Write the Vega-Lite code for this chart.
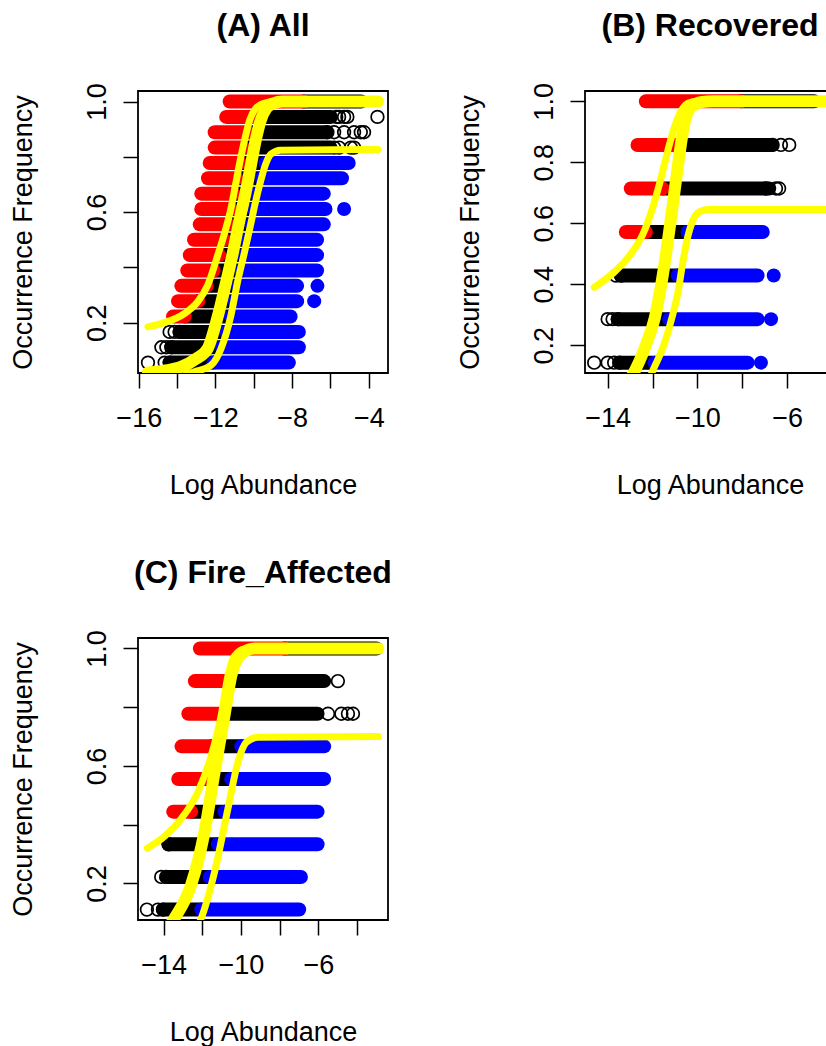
{
 "$schema": "https://vega.github.io/schema/vega-lite/v6.json",
 "background": "white",
 "padding": {"left": 8, "top": 8, "right": 0, "bottom": 0},
 "bounds": "flush",
 "columns": 2,
 "spacing": {"row": 265, "column": 197},
 "datasets": {
  "bands": [
   {"p":"A","g":"black","y":1.0,"x1":-7.4,"x2":-4.4},
   {"p":"A","g":"black","y":0.9444,"x1":-10.05,"x2":-5.98},
   {"p":"A","g":"black","y":0.8889,"x1":-10.35,"x2":-6.2},
   {"p":"A","g":"black","y":0.8333,"x1":-10.55,"x2":-6.0},
   {"p":"A","g":"black","y":0.7778,"x1":-10.73,"x2":-9.4},
   {"p":"A","g":"black","y":0.7222,"x1":-10.9,"x2":-9.6},
   {"p":"A","g":"black","y":0.6667,"x1":-11.05,"x2":-9.85},
   {"p":"A","g":"black","y":0.6111,"x1":-11.2,"x2":-10.0},
   {"p":"A","g":"black","y":0.5556,"x1":-11.35,"x2":-10.15},
   {"p":"A","g":"black","y":0.5,"x1":-11.55,"x2":-10.35},
   {"p":"A","g":"black","y":0.4444,"x1":-11.8,"x2":-10.5},
   {"p":"A","g":"black","y":0.3889,"x1":-12.1,"x2":-10.62},
   {"p":"A","g":"black","y":0.3333,"x1":-12.45,"x2":-10.8},
   {"p":"A","g":"black","y":0.2778,"x1":-12.9,"x2":-11.0},
   {"p":"A","g":"black","y":0.2222,"x1":-13.6,"x2":-11.2},
   {"p":"A","g":"black","y":0.1667,"x1":-13.87,"x2":-11.45},
   {"p":"A","g":"black","y":0.1111,"x1":-14.3,"x2":-11.68},
   {"p":"A","g":"black","y":0.0556,"x1":-14.39,"x2":-12.1},
   {"p":"B","g":"black","y":1.0,"x1":-8.06,"x2":-4.8},
   {"p":"B","g":"black","y":0.8571,"x1":-10.88,"x2":-6.7},
   {"p":"B","g":"black","y":0.7143,"x1":-11.55,"x2":-6.8},
   {"p":"B","g":"black","y":0.5714,"x1":-12.3,"x2":-10.44},
   {"p":"B","g":"black","y":0.4286,"x1":-13.41,"x2":-10.88},
   {"p":"B","g":"black","y":0.2857,"x1":-13.55,"x2":-11.26},
   {"p":"B","g":"black","y":0.1429,"x1":-13.48,"x2":-11.92},
   {"p":"C","g":"black","y":1.0,"x1":-7.75,"x2":-3.0},
   {"p":"C","g":"black","y":0.8889,"x1":-10.67,"x2":-5.7},
   {"p":"C","g":"black","y":0.7778,"x1":-11.02,"x2":-6.04},
   {"p":"C","g":"black","y":0.6667,"x1":-11.53,"x2":-9.98},
   {"p":"C","g":"black","y":0.5556,"x1":-11.96,"x2":-10.5},
   {"p":"C","g":"black","y":0.4444,"x1":-12.57,"x2":-10.85},
   {"p":"C","g":"black","y":0.3333,"x1":-13.74,"x2":-11.19},
   {"p":"C","g":"black","y":0.2222,"x1":-13.86,"x2":-11.62},
   {"p":"C","g":"black","y":0.1111,"x1":-14.03,"x2":-12.05},
   {"p":"A","g":"red","y":1.0,"x1":-11.26,"x2":-7.4},
   {"p":"A","g":"red","y":0.9444,"x1":-11.44,"x2":-10.05},
   {"p":"A","g":"red","y":0.8889,"x1":-12.04,"x2":-10.35},
   {"p":"A","g":"red","y":0.8333,"x1":-12.04,"x2":-10.55},
   {"p":"A","g":"red","y":0.7778,"x1":-12.3,"x2":-10.73},
   {"p":"A","g":"red","y":0.7222,"x1":-12.39,"x2":-10.9},
   {"p":"A","g":"red","y":0.6667,"x1":-12.74,"x2":-11.05},
   {"p":"A","g":"red","y":0.6111,"x1":-12.74,"x2":-11.2},
   {"p":"A","g":"red","y":0.5556,"x1":-12.82,"x2":-11.35},
   {"p":"A","g":"red","y":0.5,"x1":-13.12,"x2":-11.55},
   {"p":"A","g":"red","y":0.4444,"x1":-13.34,"x2":-11.8},
   {"p":"A","g":"red","y":0.3889,"x1":-13.47,"x2":-12.1},
   {"p":"A","g":"red","y":0.3333,"x1":-13.78,"x2":-12.45},
   {"p":"A","g":"red","y":0.2778,"x1":-13.95,"x2":-12.9},
   {"p":"A","g":"red","y":0.2222,"x1":-14.21,"x2":-13.6},
   {"p":"B","g":"red","y":1.0,"x1":-12.3,"x2":-8.06},
   {"p":"B","g":"red","y":0.8571,"x1":-12.67,"x2":-10.88},
   {"p":"B","g":"red","y":0.7143,"x1":-12.97,"x2":-11.55},
   {"p":"B","g":"red","y":0.5714,"x1":-13.19,"x2":-12.3},
   {"p":"C","g":"red","y":1.0,"x1":-12.12,"x2":-7.75},
   {"p":"C","g":"red","y":0.8889,"x1":-12.38,"x2":-10.67},
   {"p":"C","g":"red","y":0.7778,"x1":-12.72,"x2":-11.02},
   {"p":"C","g":"red","y":0.6667,"x1":-13.07,"x2":-11.53},
   {"p":"C","g":"red","y":0.5556,"x1":-13.24,"x2":-11.96},
   {"p":"C","g":"red","y":0.4444,"x1":-13.5,"x2":-12.57},
   {"p":"A","g":"blue","y":0.7778,"x1":-9.4,"x2":-5.05},
   {"p":"A","g":"blue","y":0.7222,"x1":-9.6,"x2":-5.4},
   {"p":"A","g":"blue","y":0.6667,"x1":-9.85,"x2":-6.35},
   {"p":"A","g":"blue","y":0.6111,"x1":-10.0,"x2":-6.26},
   {"p":"A","g":"blue","y":0.5556,"x1":-10.15,"x2":-6.35},
   {"p":"A","g":"blue","y":0.5,"x1":-10.35,"x2":-6.7},
   {"p":"A","g":"blue","y":0.4444,"x1":-10.5,"x2":-6.7},
   {"p":"A","g":"blue","y":0.3889,"x1":-10.62,"x2":-6.7},
   {"p":"A","g":"blue","y":0.3333,"x1":-10.8,"x2":-7.74},
   {"p":"A","g":"blue","y":0.2778,"x1":-11.0,"x2":-7.74},
   {"p":"A","g":"blue","y":0.2222,"x1":-11.2,"x2":-8.08},
   {"p":"A","g":"blue","y":0.1667,"x1":-11.45,"x2":-7.65},
   {"p":"A","g":"blue","y":0.1111,"x1":-11.68,"x2":-7.65},
   {"p":"A","g":"blue","y":0.0556,"x1":-12.1,"x2":-8.17},
   {"p":"B","g":"blue","y":0.5714,"x1":-10.44,"x2":-7.09},
   {"p":"B","g":"blue","y":0.4286,"x1":-10.88,"x2":-7.32},
   {"p":"B","g":"blue","y":0.2857,"x1":-11.26,"x2":-7.32},
   {"p":"B","g":"blue","y":0.1429,"x1":-11.92,"x2":-7.76},
   {"p":"C","g":"blue","y":0.6667,"x1":-9.98,"x2":-5.7},
   {"p":"C","g":"blue","y":0.5556,"x1":-10.5,"x2":-5.7},
   {"p":"C","g":"blue","y":0.4444,"x1":-10.85,"x2":-6.04},
   {"p":"C","g":"blue","y":0.3333,"x1":-11.19,"x2":-6.04},
   {"p":"C","g":"blue","y":0.2222,"x1":-11.62,"x2":-6.9},
   {"p":"C","g":"blue","y":0.1111,"x1":-12.05,"x2":-6.99}
  ],
  "dots": [
   {"p":"A","g":"blue","y":0.6111,"x":-5.29},
   {"p":"A","g":"blue","y":0.3333,"x":-6.68},
   {"p":"A","g":"blue","y":0.2778,"x":-6.85},
   {"p":"B","g":"blue","y":0.4286,"x":-6.6},
   {"p":"B","g":"blue","y":0.2857,"x":-6.72},
   {"p":"B","g":"blue","y":0.1429,"x":-7.17}
  ],
  "open": [
   {"p":"A","y":0.9444,"x":-5.7},{"p":"A","y":0.9444,"x":-5.55},{"p":"A","y":0.9444,"x":-5.29},{"p":"A","y":0.9444,"x":-5.12},{"p":"A","y":0.9444,"x":-3.55},
   {"p":"A","y":0.8889,"x":-6.16},{"p":"A","y":0.8889,"x":-5.81},{"p":"A","y":0.8889,"x":-5.29},{"p":"A","y":0.8889,"x":-4.77},{"p":"A","y":0.8889,"x":-4.42},{"p":"A","y":0.8889,"x":-4.25},
   {"p":"A","y":0.8333,"x":-5.81},{"p":"A","y":0.8333,"x":-5.55},{"p":"A","y":0.8333,"x":-4.94},{"p":"A","y":0.8333,"x":-4.77},
   {"p":"A","y":0.1667,"x":-14.39},{"p":"A","y":0.1667,"x":-14.13},{"p":"A","y":0.1667,"x":-13.87},
   {"p":"A","y":0.1111,"x":-14.82},{"p":"A","y":0.1111,"x":-14.56},{"p":"A","y":0.1111,"x":-14.3},
   {"p":"A","y":0.0556,"x":-15.52},{"p":"A","y":0.0556,"x":-14.65},{"p":"A","y":0.0556,"x":-14.39},
   {"p":"B","y":0.8571,"x":-6.65},{"p":"B","y":0.8571,"x":-6.28},{"p":"B","y":0.8571,"x":-5.91},
   {"p":"B","y":0.7143,"x":-6.95},{"p":"B","y":0.7143,"x":-6.5},{"p":"B","y":0.7143,"x":-6.36},
   {"p":"B","y":0.4286,"x":-13.63},{"p":"B","y":0.4286,"x":-13.41},
   {"p":"B","y":0.2857,"x":-14.0},{"p":"B","y":0.2857,"x":-13.78},{"p":"B","y":0.2857,"x":-13.55},
   {"p":"B","y":0.1429,"x":-14.6},{"p":"B","y":0.1429,"x":-14.0},{"p":"B","y":0.1429,"x":-13.71},{"p":"B","y":0.1429,"x":-13.48},
   {"p":"C","y":0.8889,"x":-4.99},
   {"p":"C","y":0.7778,"x":-5.5},{"p":"C","y":0.7778,"x":-4.81},{"p":"C","y":0.7778,"x":-4.47},{"p":"C","y":0.7778,"x":-4.21},
   {"p":"C","y":0.3333,"x":-13.74},
   {"p":"C","y":0.2222,"x":-14.12},{"p":"C","y":0.2222,"x":-13.86},
   {"p":"C","y":0.1111,"x":-14.86},{"p":"C","y":0.1111,"x":-14.29},{"p":"C","y":0.1111,"x":-14.03}
  ],
  "curves": [
   {"p":"A","c":"upper","x":-15.52,"y":0.185},{"p":"A","c":"upper","x":-14.67,"y":0.2},{"p":"A","c":"upper","x":-13.62,"y":0.233},{"p":"A","c":"upper","x":-12.93,"y":0.275},{"p":"A","c":"upper","x":-12.41,"y":0.335},{"p":"A","c":"upper","x":-11.9,"y":0.44},{"p":"A","c":"upper","x":-11.5,"y":0.53},{"p":"A","c":"upper","x":-11.2,"y":0.61},{"p":"A","c":"upper","x":-10.95,"y":0.7},{"p":"A","c":"upper","x":-10.7,"y":0.79},{"p":"A","c":"upper","x":-10.45,"y":0.87},{"p":"A","c":"upper","x":-10.2,"y":0.935},{"p":"A","c":"upper","x":-9.9,"y":0.975},{"p":"A","c":"upper","x":-9.5,"y":0.993},{"p":"A","c":"upper","x":-9.0,"y":0.999},{"p":"A","c":"upper","x":-3.52,"y":1.0},
   {"p":"A","c":"fit","x":-15.52,"y":0.02},{"p":"A","c":"fit","x":-14.5,"y":0.028},{"p":"A","c":"fit","x":-13.8,"y":0.04},{"p":"A","c":"fit","x":-13.0,"y":0.07},{"p":"A","c":"fit","x":-12.41,"y":0.106},{"p":"A","c":"fit","x":-11.89,"y":0.22},{"p":"A","c":"fit","x":-11.5,"y":0.33},{"p":"A","c":"fit","x":-11.1,"y":0.45},{"p":"A","c":"fit","x":-10.75,"y":0.57},{"p":"A","c":"fit","x":-10.4,"y":0.68},{"p":"A","c":"fit","x":-10.15,"y":0.77},{"p":"A","c":"fit","x":-9.9,"y":0.86},{"p":"A","c":"fit","x":-9.65,"y":0.93},{"p":"A","c":"fit","x":-9.35,"y":0.975},{"p":"A","c":"fit","x":-9.0,"y":0.993},{"p":"A","c":"fit","x":-8.5,"y":1.0},{"p":"A","c":"fit","x":-3.52,"y":1.0},
   {"p":"A","c":"lower","x":-13.6,"y":0.01},{"p":"A","c":"lower","x":-13.1,"y":0.022},{"p":"A","c":"lower","x":-12.23,"y":0.046},{"p":"A","c":"lower","x":-11.71,"y":0.106},{"p":"A","c":"lower","x":-11.19,"y":0.227},{"p":"A","c":"lower","x":-10.84,"y":0.35},{"p":"A","c":"lower","x":-10.5,"y":0.45},{"p":"A","c":"lower","x":-10.15,"y":0.56},{"p":"A","c":"lower","x":-9.9,"y":0.64},{"p":"A","c":"lower","x":-9.65,"y":0.71},{"p":"A","c":"lower","x":-9.4,"y":0.77},{"p":"A","c":"lower","x":-9.1,"y":0.81},{"p":"A","c":"lower","x":-8.6,"y":0.824},{"p":"A","c":"lower","x":-3.52,"y":0.826},
   {"p":"B","c":"upper","x":-14.6,"y":0.39},{"p":"B","c":"upper","x":-13.71,"y":0.44},{"p":"B","c":"upper","x":-12.96,"y":0.5},{"p":"B","c":"upper","x":-12.44,"y":0.563},{"p":"B","c":"upper","x":-12.0,"y":0.65},{"p":"B","c":"upper","x":-11.62,"y":0.749},{"p":"B","c":"upper","x":-11.25,"y":0.858},{"p":"B","c":"upper","x":-10.88,"y":0.945},{"p":"B","c":"upper","x":-10.43,"y":0.994},{"p":"B","c":"upper","x":-10.0,"y":1.0},{"p":"B","c":"upper","x":-3.9,"y":1.0},
   {"p":"B","c":"fit","x":-14.6,"y":0.0},{"p":"B","c":"fit","x":-13.8,"y":0.02},{"p":"B","c":"fit","x":-13.3,"y":0.06},{"p":"B","c":"fit","x":-12.8,"y":0.115},{"p":"B","c":"fit","x":-12.3,"y":0.2},{"p":"B","c":"fit","x":-11.9,"y":0.29},{"p":"B","c":"fit","x":-11.5,"y":0.45},{"p":"B","c":"fit","x":-11.1,"y":0.66},{"p":"B","c":"fit","x":-10.85,"y":0.8},{"p":"B","c":"fit","x":-10.6,"y":0.92},{"p":"B","c":"fit","x":-10.3,"y":0.98},{"p":"B","c":"fit","x":-9.8,"y":0.998},{"p":"B","c":"fit","x":-9.3,"y":1.0},{"p":"B","c":"fit","x":-3.9,"y":1.0},
   {"p":"B","c":"lower","x":-12.6,"y":0.0},{"p":"B","c":"lower","x":-12.0,"y":0.115},{"p":"B","c":"lower","x":-11.5,"y":0.2},{"p":"B","c":"lower","x":-11.1,"y":0.3},{"p":"B","c":"lower","x":-10.85,"y":0.38},{"p":"B","c":"lower","x":-10.7,"y":0.45},{"p":"B","c":"lower","x":-10.45,"y":0.55},{"p":"B","c":"lower","x":-10.2,"y":0.61},{"p":"B","c":"lower","x":-9.9,"y":0.638},{"p":"B","c":"lower","x":-9.5,"y":0.645},{"p":"B","c":"lower","x":-3.9,"y":0.645},
   {"p":"C","c":"upper","x":-14.84,"y":0.32},{"p":"C","c":"upper","x":-13.95,"y":0.36},{"p":"C","c":"upper","x":-13.09,"y":0.42},{"p":"C","c":"upper","x":-12.22,"y":0.512},{"p":"C","c":"upper","x":-11.53,"y":0.636},{"p":"C","c":"upper","x":-11.02,"y":0.772},{"p":"C","c":"upper","x":-10.67,"y":0.907},{"p":"C","c":"upper","x":-10.33,"y":0.975},{"p":"C","c":"upper","x":-9.81,"y":0.998},{"p":"C","c":"upper","x":-9.3,"y":1.0},{"p":"C","c":"upper","x":-2.9,"y":1.0},
   {"p":"C","c":"fit","x":-14.84,"y":0.0},{"p":"C","c":"fit","x":-14.0,"y":0.03},{"p":"C","c":"fit","x":-13.43,"y":0.082},{"p":"C","c":"fit","x":-12.57,"y":0.196},{"p":"C","c":"fit","x":-11.88,"y":0.376},{"p":"C","c":"fit","x":-11.36,"y":0.58},{"p":"C","c":"fit","x":-10.85,"y":0.772},{"p":"C","c":"fit","x":-10.5,"y":0.907},{"p":"C","c":"fit","x":-9.98,"y":0.981},{"p":"C","c":"fit","x":-9.3,"y":1.0},{"p":"C","c":"fit","x":-2.9,"y":1.0},
   {"p":"C","c":"lower","x":-12.8,"y":0.0},{"p":"C","c":"lower","x":-12.05,"y":0.082},{"p":"C","c":"lower","x":-11.36,"y":0.24},{"p":"C","c":"lower","x":-10.67,"y":0.455},{"p":"C","c":"lower","x":-10.15,"y":0.614},{"p":"C","c":"lower","x":-9.73,"y":0.68},{"p":"C","c":"lower","x":-9.12,"y":0.698},{"p":"C","c":"lower","x":-2.9,"y":0.7}
  ]
 },
 "concat": [
  {
   "width": 250, "height": 282,
   "title": {"text": "(A) All"},
   "layer": [
    {"data": {"name": "bands"}, "transform": [{"filter": "datum.p == 'A'"}],
     "mark": {"type": "rule", "strokeWidth": 14, "strokeCap": "round"},
     "encoding": {
      "x": {"field": "x1", "type": "quantitative", "scale": {"domain": [-16.04, -3.0], "nice": false, "zero": false},
            "axis": {"title": "Log Abundance", "values": [-16,-14,-12,-10,-8,-6,-4], "labelExpr": "datum.value % 4 == 0 ? format(datum.value, 'd') : ''"}},
      "x2": {"field": "x2"},
      "y": {"field": "y", "type": "quantitative", "scale": {"domain": [0.018, 1.038], "nice": false, "zero": false},
            "axis": {"title": "Occurrence Frequency", "values": [0.2,0.4,0.6,0.8,1.0], "labelExpr": "abs(((datum.value*10) % 4) - 2) < 0.01 ? format(datum.value, '.1f') : ''"}},
      "color": {"field": "g", "type": "nominal", "scale": {"domain": ["red","black","blue"], "range": ["#ff0000","#000000","#0000ff"]}, "legend": null}
     }},
    {"data": {"name": "dots"}, "transform": [{"filter": "datum.p == 'A'"}],
     "mark": {"type": "point", "shape": "circle", "filled": true, "size": 196, "opacity": 1},
     "encoding": {"x": {"field": "x", "type": "quantitative"}, "y": {"field": "y", "type": "quantitative"},
      "color": {"field": "g", "type": "nominal", "scale": {"domain": ["red","black","blue"], "range": ["#ff0000","#000000","#0000ff"]}, "legend": null}}},
    {"data": {"name": "open"}, "transform": [{"filter": "datum.p == 'A'"}],
     "mark": {"type": "point", "shape": "circle", "filled": false, "size": 160, "stroke": "black", "strokeWidth": 1.7, "opacity": 1},
     "encoding": {"x": {"field": "x", "type": "quantitative"}, "y": {"field": "y", "type": "quantitative"}}},
    {"data": {"name": "curves"}, "transform": [{"filter": "datum.p == 'A' && datum.c != 'fit'"}],
     "mark": {"type": "line", "color": "#ffff00", "strokeWidth": 7, "strokeCap": "round", "strokeJoin": "round", "clip": true, "interpolate": "monotone"},
     "encoding": {"x": {"field": "x", "type": "quantitative"}, "y": {"field": "y", "type": "quantitative"}, "detail": {"field": "c"}, "order": {"field": "x", "type": "quantitative"}}},
    {"data": {"name": "curves"}, "transform": [{"filter": "datum.p == 'A' && datum.c == 'fit'"}],
     "mark": {"type": "line", "color": "#ffff00", "strokeWidth": 12, "strokeCap": "round", "strokeJoin": "round", "clip": true, "interpolate": "monotone"},
     "encoding": {"x": {"field": "x", "type": "quantitative"}, "y": {"field": "y", "type": "quantitative"}, "order": {"field": "x", "type": "quantitative"}}}
   ]
  },
  {
   "width": 250, "height": 282,
   "title": {"text": "(B) Recovered"},
   "layer": [
    {"data": {"name": "bands"}, "transform": [{"filter": "datum.p == 'B'"}],
     "mark": {"type": "rule", "strokeWidth": 14, "strokeCap": "round"},
     "encoding": {
      "x": {"field": "x1", "type": "quantitative", "scale": {"domain": [-15.01, -3.87], "nice": false, "zero": false},
            "axis": {"title": "Log Abundance", "values": [-14,-12,-10,-8,-6,-4], "labelExpr": "(datum.value + 14) % 4 == 0 ? format(datum.value, 'd') : ''"}},
      "x2": {"field": "x2"},
      "y": {"field": "y", "type": "quantitative", "scale": {"domain": [0.109, 1.034], "nice": false, "zero": false},
            "axis": {"title": "Occurrence Frequency", "values": [0.2,0.4,0.6,0.8,1.0], "labelExpr": "format(datum.value, '.1f')"}},
      "color": {"field": "g", "type": "nominal", "scale": {"domain": ["red","black","blue"], "range": ["#ff0000","#000000","#0000ff"]}, "legend": null}
     }},
    {"data": {"name": "dots"}, "transform": [{"filter": "datum.p == 'B'"}],
     "mark": {"type": "point", "shape": "circle", "filled": true, "size": 196, "opacity": 1},
     "encoding": {"x": {"field": "x", "type": "quantitative"}, "y": {"field": "y", "type": "quantitative"},
      "color": {"field": "g", "type": "nominal", "scale": {"domain": ["red","black","blue"], "range": ["#ff0000","#000000","#0000ff"]}, "legend": null}}},
    {"data": {"name": "open"}, "transform": [{"filter": "datum.p == 'B'"}],
     "mark": {"type": "point", "shape": "circle", "filled": false, "size": 160, "stroke": "black", "strokeWidth": 1.7, "opacity": 1},
     "encoding": {"x": {"field": "x", "type": "quantitative"}, "y": {"field": "y", "type": "quantitative"}}},
    {"data": {"name": "curves"}, "transform": [{"filter": "datum.p == 'B' && datum.c != 'fit'"}],
     "mark": {"type": "line", "color": "#ffff00", "strokeWidth": 7, "strokeCap": "round", "strokeJoin": "round", "clip": true, "interpolate": "monotone"},
     "encoding": {"x": {"field": "x", "type": "quantitative"}, "y": {"field": "y", "type": "quantitative"}, "detail": {"field": "c"}, "order": {"field": "x", "type": "quantitative"}}},
    {"data": {"name": "curves"}, "transform": [{"filter": "datum.p == 'B' && datum.c == 'fit'"}],
     "mark": {"type": "line", "color": "#ffff00", "strokeWidth": 12, "strokeCap": "round", "strokeJoin": "round", "clip": true, "interpolate": "monotone"},
     "encoding": {"x": {"field": "x", "type": "quantitative"}, "y": {"field": "y", "type": "quantitative"}, "order": {"field": "x", "type": "quantitative"}}}
   ]
  },
  {
   "width": 250, "height": 282,
   "title": {"text": "(C) Fire_Affected"},
   "layer": [
    {"data": {"name": "bands"}, "transform": [{"filter": "datum.p == 'C'"}],
     "mark": {"type": "rule", "strokeWidth": 14, "strokeCap": "round"},
     "encoding": {
      "x": {"field": "x1", "type": "quantitative", "scale": {"domain": [-15.32, -2.4], "nice": false, "zero": false},
            "axis": {"title": "Log Abundance", "values": [-14,-12,-10,-8,-6,-4], "labelExpr": "(datum.value + 14) % 4 == 0 ? format(datum.value, 'd') : ''"}},
      "x2": {"field": "x2"},
      "y": {"field": "y", "type": "quantitative", "scale": {"domain": [0.0756, 1.0356], "nice": false, "zero": false},
            "axis": {"title": "Occurrence Frequency", "values": [0.2,0.4,0.6,0.8,1.0], "labelExpr": "abs(((datum.value*10) % 4) - 2) < 0.01 ? format(datum.value, '.1f') : ''"}},
      "color": {"field": "g", "type": "nominal", "scale": {"domain": ["red","black","blue"], "range": ["#ff0000","#000000","#0000ff"]}, "legend": null}
     }},
    {"data": {"name": "open"}, "transform": [{"filter": "datum.p == 'C'"}],
     "mark": {"type": "point", "shape": "circle", "filled": false, "size": 160, "stroke": "black", "strokeWidth": 1.7, "opacity": 1},
     "encoding": {"x": {"field": "x", "type": "quantitative"}, "y": {"field": "y", "type": "quantitative"}}},
    {"data": {"name": "curves"}, "transform": [{"filter": "datum.p == 'C' && datum.c != 'fit'"}],
     "mark": {"type": "line", "color": "#ffff00", "strokeWidth": 7, "strokeCap": "round", "strokeJoin": "round", "clip": true, "interpolate": "monotone"},
     "encoding": {"x": {"field": "x", "type": "quantitative"}, "y": {"field": "y", "type": "quantitative"}, "detail": {"field": "c"}, "order": {"field": "x", "type": "quantitative"}}},
    {"data": {"name": "curves"}, "transform": [{"filter": "datum.p == 'C' && datum.c == 'fit'"}],
     "mark": {"type": "line", "color": "#ffff00", "strokeWidth": 12, "strokeCap": "round", "strokeJoin": "round", "clip": true, "interpolate": "monotone"},
     "encoding": {"x": {"field": "x", "type": "quantitative"}, "y": {"field": "y", "type": "quantitative"}, "order": {"field": "x", "type": "quantitative"}}}
   ]
  }
 ],
 "config": {
  "font": "Liberation Sans",
  "view": {"stroke": "black", "strokeWidth": 1.8},
  "title": {"font": "Liberation Sans", "fontSize": 32, "fontWeight": "bold", "color": "black", "anchor": "middle", "baseline": "alphabetic", "offset": 40, "frame": "group"},
  "axis": {"labelFont": "Liberation Sans", "labelFontSize": 27, "labelColor": "black", "titleFont": "Liberation Sans", "titleFontSize": 27, "titleFontWeight": "normal", "titleColor": "black", "tickColor": "black", "tickSize": 15, "tickWidth": 1.5, "domain": false, "grid": false, "labelFlush": false, "labelOverlap": false, "labelBound": false},
  "axisX": {"labelPadding": 17, "titlePadding": 41},
  "axisY": {"labelAngle": -90, "labelAlign": "center", "labelBaseline": "alphabetic", "labelPadding": 18, "titlePadding": 46}
 }
}
